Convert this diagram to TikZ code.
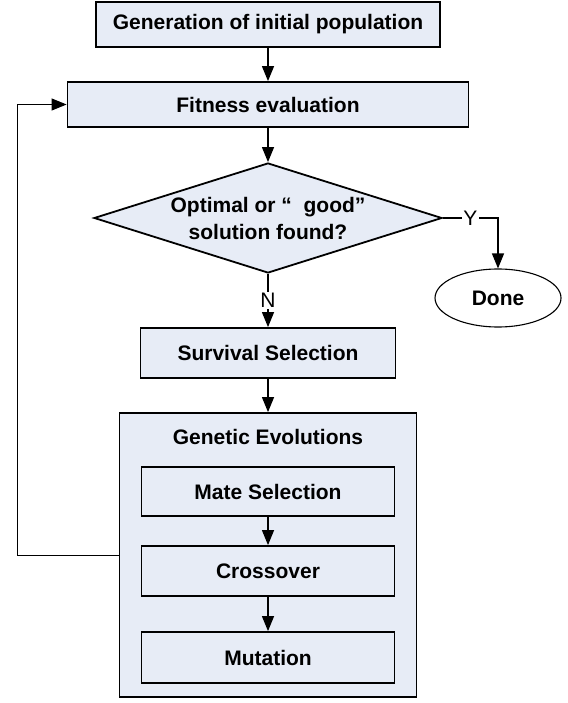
\documentclass[tikz,border=0pt]{standalone}
\usepackage{fontspec}
\setmainfont{Liberation Sans}
\usetikzlibrary{arrows.meta,positioning,shapes.geometric}
\definecolor{Ink}{HTML}{000000}
\definecolor{BoxFill}{HTML}{E7ECF6}

\begin{document}
\begin{tikzpicture}[x=1pt,y=-1pt,
  stepbox/.style={draw=Ink,fill=BoxFill,line width=1.8pt,minimum height=45pt,inner sep=0pt,font=\fontsize{21}{26}\selectfont\bfseries},
  decision/.style={draw=Ink,fill=BoxFill,diamond,line width=1.8pt,minimum width=348pt,minimum height=110pt,inner sep=0pt},
  endnode/.style={draw=Ink,ellipse,line width=1.1pt,minimum width=126pt,minimum height=58pt,inner sep=0pt,font=\fontsize{21}{26}\selectfont\bfseries},
  yn/.style={fill=white,inner sep=1.5pt,font=\fontsize{21}{24}\selectfont},
  flow/.style={-{Triangle[length=15pt,width=12pt]},line width=1.2pt,draw=Ink}
]
  \useasboundingbox (0,0) rectangle (567,703);
  \node[stepbox,minimum width=344pt] (gen) at (268,24.5) {Generation of initial population};
  \node[stepbox,minimum width=401pt] (fit) at (268,104.5) {Fitness evaluation};
  \node[decision,label={[font=\fontsize{21}{27}\selectfont\bfseries,align=center]center:{Optimal or “\ \ good”\\solution found?}}] (opt) at (268,218) {};
  \node[endnode] (done) at (498,298) {Done};
  \node[stepbox,minimum width=255pt,minimum height=50pt] (surv) at (268,353) {Survival Selection};
  \node[stepbox,minimum width=297pt,minimum height=284pt] (genev) at (268,555) {};
  \node[font=\fontsize{21}{26}\selectfont\bfseries] (gentitle) at (268,437) {Genetic Evolutions};
  \node[stepbox,minimum width=253pt,minimum height=49pt] (mate) at (268,491.5) {Mate Selection};
  \node[stepbox,minimum width=253pt,minimum height=50pt] (cross) at (268,571) {Crossover};
  \node[stepbox,minimum width=253pt,minimum height=51pt] (mut) at (268,657.5) {Mutation};
  \coordinate (back) at (17,555);

  \draw[flow] (gen) -- (fit);
  \draw[flow] (fit) -- (opt);
  \draw[flow] (opt.south) -- node[yn]{N} (surv);
  \draw[flow] (opt.east) -| node[yn,pos=0.25]{Y} (done.north);
  \draw[flow] (surv) -- (genev);
  \draw[flow] (mate) -- (cross);
  \draw[flow] (cross) -- (mut);
  \draw[flow,line width=1pt] (genev.west) -- (back) |- (fit.west);
\end{tikzpicture}
\end{document}
